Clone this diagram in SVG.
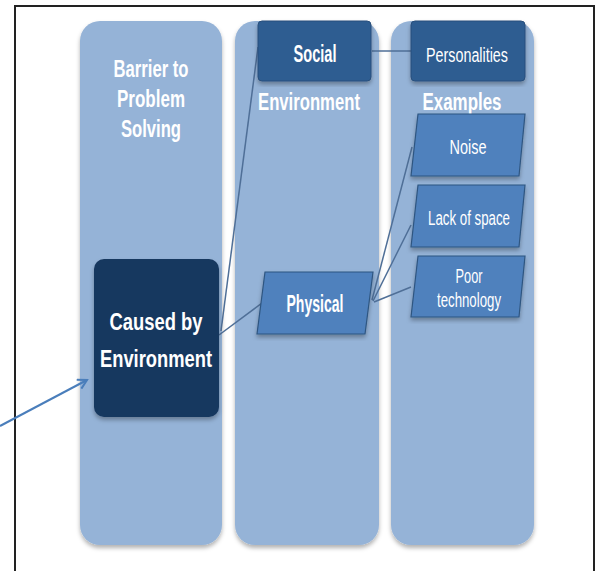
<svg xmlns="http://www.w3.org/2000/svg" width="600" height="571" viewBox="0 0 600 571">
<defs>
<filter id="sh" x="-10%" y="-10%" width="120%" height="120%">
<feDropShadow dx="0" dy="3" stdDeviation="2" flood-color="#000" flood-opacity="0.3"/>
</filter>
<marker id="ah" markerWidth="12" markerHeight="12" refX="10" refY="6" orient="auto" markerUnits="userSpaceOnUse">
<path d="M1,1 L10,6 L1,11" fill="none" stroke="#4a7ebb" stroke-width="2"/>
</marker>
<style>
.col{fill:#95b3d7;filter:url(#sh)}
.hd{font-family:"Liberation Sans",Arial,sans-serif;font-weight:bold;font-size:23px;fill:#fff;text-anchor:middle}
.bx{font-family:"Liberation Sans",Arial,sans-serif;font-weight:bold;font-size:23px;fill:#fff;text-anchor:middle}
.rg{font-family:"Liberation Sans",Arial,sans-serif;font-size:20px;fill:#fff;text-anchor:middle}
.dk{fill:#2f5d91;stroke:#2a4f7c;stroke-width:1;filter:url(#sh)}
.pg{fill:#4f81bd;stroke:#2f5681;stroke-width:1.2;filter:url(#sh)}
.cn{stroke:#4f6f97;stroke-width:1.5;fill:none}
</style>
</defs>
<rect width="600" height="571" fill="#fff"/>
<path d="M15,571 V6 H594 V571" fill="none" stroke="#222" stroke-width="2"/>

<g id="col1"><rect class="col" x="80" y="21" width="142" height="524" rx="20"/>
<text class="hd" x="151" y="77" textLength="75" lengthAdjust="spacingAndGlyphs">Barrier to</text>
<text class="hd" x="151" y="107" textLength="68" lengthAdjust="spacingAndGlyphs">Problem</text>
<text class="hd" x="151" y="137" textLength="60" lengthAdjust="spacingAndGlyphs">Solving</text></g>
<g id="col2"><rect class="col" x="235" y="21" width="144" height="524" rx="20"/>
<text class="hd" x="309" y="110" textLength="102" lengthAdjust="spacingAndGlyphs">Environment</text></g>
<g id="col3"><rect class="col" x="391" y="21" width="143" height="524" rx="20"/>
<text class="hd" x="462" y="110" textLength="79" lengthAdjust="spacingAndGlyphs">Examples</text></g>

<g id="connectors">
<line class="cn" x1="221" y1="331" x2="258" y2="47"/>
<line class="cn" x1="219" y1="335" x2="262" y2="303"/>
<line class="cn" x1="372" y1="51" x2="411" y2="51" stroke-width="2.5"/>
<line class="cn" x1="372" y1="300" x2="412" y2="147"/>
<line class="cn" x1="373" y1="301" x2="411" y2="225"/>
<line class="cn" x1="374" y1="302" x2="411" y2="287"/>
<line x1="0" y1="426" x2="87" y2="380" stroke="#4a7ebb" stroke-width="2" marker-end="url(#ah)"/>
</g>

<g id="caused"><rect x="94" y="259" width="125" height="158" rx="10" fill="#17375e" filter="url(#sh)"/>
<text class="bx" x="156" y="330" font-size="29" textLength="93" lengthAdjust="spacingAndGlyphs">Caused by</text>
<text class="bx" x="156" y="367" font-size="29" textLength="112" lengthAdjust="spacingAndGlyphs">Environment</text></g>

<g id="social"><rect class="dk" x="258" y="21" width="113" height="60" rx="4"/>
<text class="bx" x="315" y="62" textLength="43" lengthAdjust="spacingAndGlyphs">Social</text></g>

<g id="personalities"><rect class="dk" x="411" y="21" width="114" height="60" rx="4"/>
<text class="rg" x="467" y="62" textLength="82" lengthAdjust="spacingAndGlyphs">Personalities</text></g>

<g id="physical"><polygon class="pg" points="265,272 373,272 365,334 257,334"/>
<text class="bx" x="315" y="312" textLength="57" lengthAdjust="spacingAndGlyphs">Physical</text></g>

<g id="noise"><polygon class="pg" points="418,114 525,114 519,176 411,176"/>
<text class="rg" x="468" y="154" textLength="37" lengthAdjust="spacingAndGlyphs">Noise</text></g>

<g id="lack"><polygon class="pg" points="418,185 525,185 519,247 411,247"/>
<text class="rg" x="469" y="225" textLength="82" lengthAdjust="spacingAndGlyphs">Lack of space</text></g>

<g id="poor"><polygon class="pg" points="418,256 525,256 519,317 411,317"/>
<text class="rg" x="469" y="283" textLength="27" lengthAdjust="spacingAndGlyphs">Poor</text>
<text class="rg" x="469" y="307" textLength="64" lengthAdjust="spacingAndGlyphs">technology</text></g>
</svg>
